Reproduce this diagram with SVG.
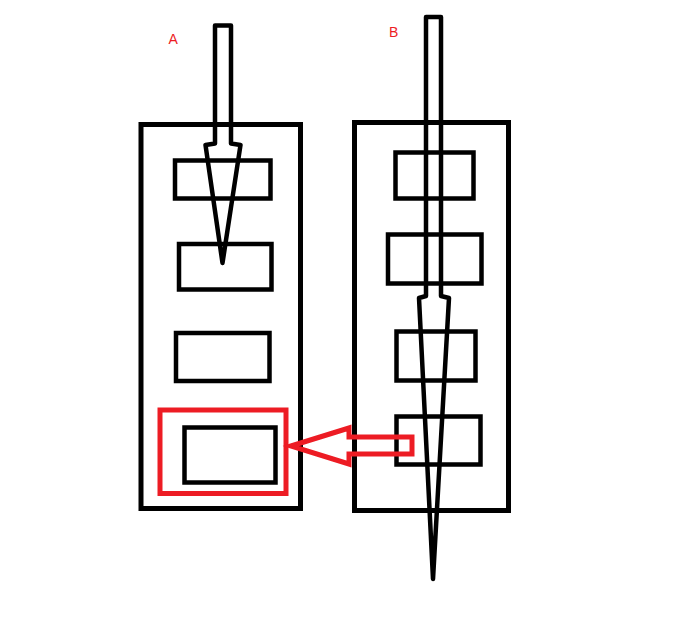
<svg xmlns="http://www.w3.org/2000/svg" width="679" height="617" viewBox="0 0 679 617">
<style>
.box{fill:none;stroke:#000;stroke-width:5}
.inner{fill:none;stroke:#000;stroke-width:4.5}
.arr{fill:none;stroke:#000;stroke-width:4.5;stroke-linejoin:round}
.red{fill:none;stroke:#ed1c24;stroke-width:5}
.lbl{font-family:"Liberation Sans",Arial,sans-serif;font-size:14px;fill:#ed1c24}
</style>
<rect width="679" height="617" fill="#fff"/>
<g id="containerA">
<rect class="box" x="141" y="124.5" width="159.5" height="384"/>
<text class="lbl" x="168.5" y="44.3">A</text>
</g>
<g id="containerB">
<rect class="box" x="354.5" y="122.5" width="154" height="388"/>
<text class="lbl" x="389" y="37.3">B</text>
</g>
<g id="nodeA1"><rect class="inner" x="175" y="160.5" width="95.5" height="38"/></g>
<g id="nodeA2"><rect class="inner" x="179" y="244" width="92.5" height="45.5"/></g>
<g id="nodeA3"><rect class="inner" x="176" y="333" width="93.5" height="48"/></g>
<g id="nodeA4">
<rect class="red" x="160" y="410" width="126" height="83.5"/>
<rect class="inner" x="184.5" y="427.5" width="91" height="55"/>
</g>
<g id="nodeB1"><rect class="inner" x="395.5" y="152.5" width="78" height="46"/></g>
<g id="nodeB2"><rect class="inner" x="388" y="234.5" width="93.5" height="49"/></g>
<g id="nodeB3"><rect class="inner" x="396.5" y="331.5" width="79" height="49"/></g>
<g id="nodeB4"><rect class="inner" x="396.5" y="416.5" width="84" height="48"/></g>
<g id="connectors">
<polygon class="arr" points="215,25.5 231,25.5 231,143.5 240.5,145 222.5,263 205.5,145 215,143.5"/>
<polygon class="arr" points="426,17 441,17 441,296 449,298 433,579 419,298 426,296"/>
<polygon fill="none" stroke="#ed1c24" stroke-width="5" stroke-linejoin="miter" points="291,446 349,428 349,437 412,437 412,454 349,454 349,464"/>
</g>
</svg>
